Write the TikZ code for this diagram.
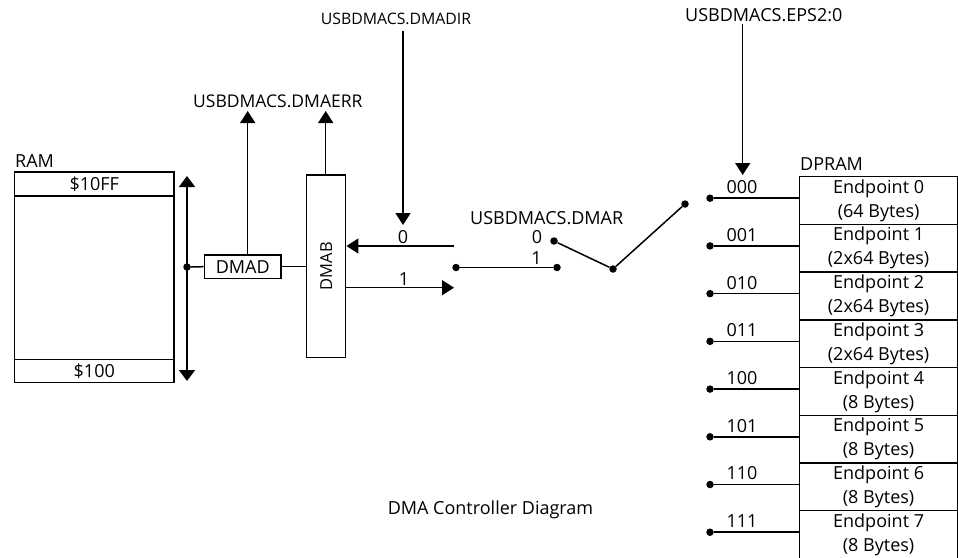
\documentclass[tikz,border=0pt]{standalone}
\usepackage{fontspec}
\setmainfont{Open Sans}
\usetikzlibrary{arrows.meta}
\begin{document}
\begin{tikzpicture}[x=1pt,y=-1pt,
  txt/.style={inner sep=0pt,font=\fontsize{18}{24}\selectfont},
  box/.style={draw,line width=1.5pt,inner sep=0pt,font=\fontsize{18}{24}\selectfont},
  wire/.style={line width=1.5pt},
  dotc/.style={circle,fill=black,inner sep=0pt,minimum size=7.5pt},
  arr/.style={wire,-{Triangle[length=12pt,width=15pt]}},
  darr/.style={wire,{Triangle[length=11pt,width=16pt]}-{Triangle[length=11pt,width=16pt]}},
]
\useasboundingbox[fill=white] (0,0) rectangle (958,557);

% RAM
\node[txt,anchor=west] (ramlbl) at (15,161) {RAM};
\node[box,minimum width=159.5pt,minimum height=210.5pt] (ram) at (94.25,277.25) {};
\node[box,minimum width=159.5pt,minimum height=24pt] (ramtop) at (94.25,184) {\$10FF};
\node[box,minimum width=159.5pt,minimum height=23pt] (rambot) at (94.25,371) {\$100};

% bus
\coordinate (bustop) at (187,176);
\coordinate (busbot) at (187,381);
\draw[darr] (busbot) -- (bustop);
\node[dotc] (busdot) at (187,267) {};

% DMAD / DMAB
\node[box,minimum width=76.7pt,minimum height=23.3pt] (dmad) at (242.7,266.7) {DMAD};
\node[box,minimum width=39pt,minimum height=182.3pt] (dmab) at (326.2,266.2) {};
\node[txt,rotate=90,font=\fontsize{16.5}{18}\selectfont] (dmabtxt) at (dmab.center) {DMAB};
\draw[wire] (busdot) -- (dmad.west);
\draw[wire] (dmad.east) -- (dmab.west |- dmad.east);

% DMAERR
\node[txt,anchor=west,font=\fontsize{17.5}{20}\selectfont] (errlbl) at (193,101) {USBDMACS.DMAERR};
\coordinate (err1) at (247.7,111);
\coordinate (err2) at (325.7,111);
\draw[arr] (dmad.north -| err1) -- (err1);
\draw[arr] (dmab.north -| err2) -- (err2);

% DMADIR
\node[txt,anchor=west,font=\fontsize{15.8}{20}\selectfont] (dirlbl) at (320.7,19) {USBDMACS.DMADIR};
\coordinate (dirtop) at (403,31);
\coordinate (dirtip) at (403,225);
\draw[arr] (dirtop) -- (dirtip);

% 0 / 1 paths
\coordinate (zeroR) at (454,246);
\draw[arr] (zeroR) -- (zeroR -| dmab.east);
\node[txt] (zerolbl) at (403,237) {0};
\coordinate (oneR) at (454,287.7);
\draw[arr] (oneR -| dmab.east) -- (oneR);
\node[txt] (onelbl) at (404,279) {1};

% switch
\node[txt,anchor=west] (dmarlbl) at (470,218.5) {USBDMACS.DMAR};
\node[dotc] (in0) at (554,241) {};
\node[txt] (in0lbl) at (537,237) {0};
\node[dotc] (in1) at (557,267.5) {};
\node[txt] (in1lbl) at (536.5,258.5) {1};
\node[dotc] (inL) at (456,267.5) {};
\node[dotc] (pivot) at (613,269) {};
\node[dotc] (sout) at (685,204) {};
\draw[wire] (inL) -- (in1);
\draw[wire] (in0) -- (pivot) -- (sout);

% EPS
\node[txt,anchor=west] (epslbl) at (685,15.5) {USBDMACS.EPS2:0};
\coordinate (epstop) at (742.7,24);
\coordinate (epstip) at (742.7,175);
\draw[arr] (epstop) -- (epstip);

% DPRAM
\node[txt,anchor=west] (dpramlbl) at (800,164) {DPRAM};
\foreach \i/\code/\sz in {0/000/64 Bytes,1/001/2x64 Bytes,2/010/2x64 Bytes,3/011/2x64 Bytes,4/100/8 Bytes,5/101/8 Bytes,6/110/8 Bytes,7/111/8 Bytes}{
  \node[box,minimum width=158.6pt,minimum height=47.72pt,align=center] (ep\i) at (878.6,{176.7+47.72*\i+23.86}) {Endpoint \i\\(\sz)};
  \node[dotc] (d\i) at (710,{176.7+47.72*\i+21.5}) {};
  \draw[wire] (d\i) -- (d\i -| ep\i.west);
  \node[txt] (c\i) at (742,{176.7+47.72*\i+10.5}) {\code};
}

% title
\node[txt] (title) at (490.5,510) {DMA Controller Diagram};
\end{tikzpicture}
\end{document}
